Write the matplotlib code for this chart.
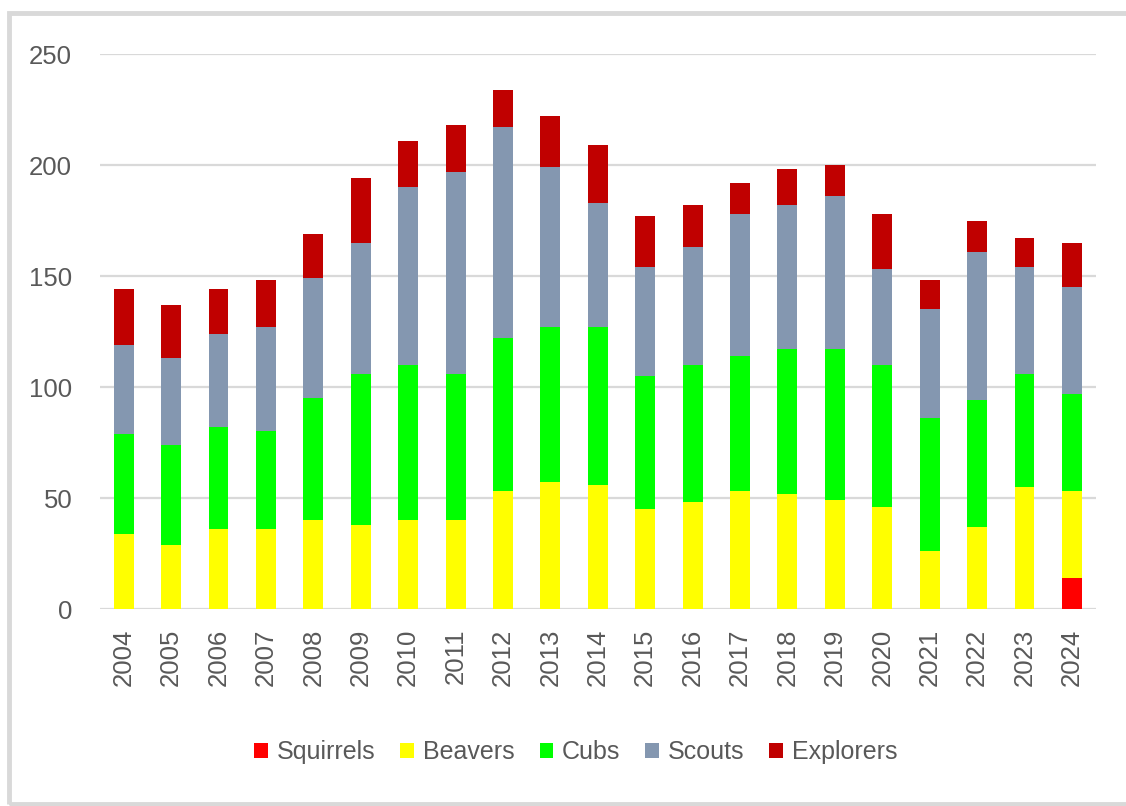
import numpy as np
import matplotlib.pyplot as plt
from matplotlib.patches import Rectangle

years = [str(y) for y in range(2004, 2025)]
squirrels = [0]*20 + [14]
beavers   = [34, 29, 36, 36, 40, 38, 40, 40, 53, 57, 56, 45, 48, 53, 52, 49, 46, 26, 37, 55, 39]
cubs      = [45, 45, 46, 44, 55, 68, 70, 66, 69, 70, 71, 60, 62, 61, 65, 68, 64, 60, 57, 51, 44]
scouts    = [40, 39, 42, 47, 54, 59, 80, 91, 95, 72, 56, 49, 53, 64, 65, 69, 43, 49, 67, 48, 48]
explorers = [25, 24, 20, 21, 20, 29, 21, 21, 17, 23, 26, 23, 19, 14, 16, 14, 25, 13, 14, 13, 20]

series = [("Squirrels", squirrels, "#ff0000"),
          ("Beavers", beavers, "#ffff00"),
          ("Cubs", cubs, "#00ff00"),
          ("Scouts", scouts, "#8497b0"),
          ("Explorers", explorers, "#c00000")]

plt.rcParams['font.family'] = ['Liberation Sans', 'DejaVu Sans']
txt = "#595959"

fig = plt.figure(figsize=(11.26, 8.06), dpi=100)
ax = fig.add_axes([0.0888, 0.2444, 0.8842, 0.6886])

x = np.arange(len(years))
bottom = np.zeros(len(years))
for name, vals, col in series:
    v = np.array(vals, dtype=float)
    ax.bar(x, v, 0.42, bottom=bottom, color=col, label=name, zorder=3)
    bottom += v

ax.set_xlim(-0.5, len(years) - 0.5)
ax.set_ylim(0, 250)
ax.set_yticks(range(0, 251, 50))
ax.set_xticks(x)
ax.set_xticklabels(years, rotation=90)
ax.tick_params(axis='both', length=0, labelsize=18.5, colors=txt)
ax.tick_params(axis='y', pad=20)
ax.tick_params(axis='x', pad=14)
ax.grid(axis='y', color="#d9d9d9", linewidth=1.6, zorder=0)
for s in ax.spines.values():
    s.set_visible(False)

leg = ax.legend(loc='center', bbox_to_anchor=(0.478, -0.258), ncol=5, frameon=False,
                fontsize=18, handlelength=0.55, handleheight=0.55, handletextpad=0.35,
                columnspacing=1.0)
for t in leg.get_texts():
    t.set_color(txt)

fig.patches.append(Rectangle((0.008, 0.0025), 1.1, 0.981, transform=fig.transFigure,
                             fill=False, edgecolor="#d9d9d9", linewidth=3.5))

plt.savefig("out.png", dpi=100)
